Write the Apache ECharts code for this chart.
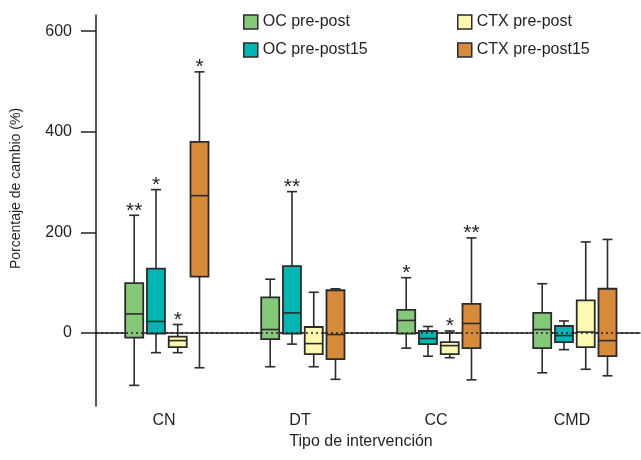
<!DOCTYPE html>
<html><head><meta charset="utf-8">
<script src="https://cdn.jsdelivr.net/npm/echarts@6/dist/echarts.min.js"></script>
<style>html,body{margin:0;padding:0;background:#fff}#c{width:641px;height:460px}</style>
</head><body><div id="c"></div>
<script>
const categories = ['CN', 'DT', 'CC', 'CMD'];
const seriesNames = ['OC pre-post', 'OC pre-post15', 'CTX pre-post', 'CTX pre-post15'];
// each box: [min, Q1, median, Q3, max], one per category
const ocPrePost    = [[-104, -9, 38, 99, 234], [-67, -12, 7, 71, 107], [-30, -1, 25, 46, 110], [-79, -30, 7, 40, 98]];
const ocPrePost15  = [[-39, -1, 23, 128, 285], [-22, -1, 40, 133, 281], [-46, -22, -11, 4, 13], [-33, -18, -5, 14, 24]];
const ctxPrePost   = [[-39, -28, -15, -7, 17], [-67, -42, -21, 12, 81], [-49, -42, -25, -18, 4], [-72, -28, 2, 65, 181]];
const ctxPrePost15 = [[-69, 112, 273, 380, 519], [-92, -52, -3, 85, 88], [-93, -30, 19, 58, 189], [-85, -46, -15, 88, 186]];
// significance marks above each box
const ocPrePostStars    = ['**', '', '*', ''];
const ocPrePost15Stars  = ['*', '**', '', ''];
const ctxPrePostStars   = ['*', '', '*', ''];
const ctxPrePost15Stars = ['*', '', '**', ''];
const yTicks = [0, 200, 400, 600];

const FONT = '"Liberation Sans", Arial, Helvetica, sans-serif';
const TXT = '#231f20';
const EDGE = '#2b2b2b';
const colors = ['#86c879', '#00b5b2', '#fff8b0', '#d68a3a'];
const allData = [ocPrePost, ocPrePost15, ctxPrePost, ctxPrePost15];
const allStars = [ocPrePostStars, ocPrePost15Stars, ctxPrePostStars, ctxPrePost15Stars];

function makeRender(si, stars) {
  return function (params, api) {
    const cat = api.value(0);
    const band = api.size([1, 0])[0];
    const off = (0.021 + (si - 1.5) * 0.16) * band;
    const c = api.coord([cat, 0])[0] + off;
    const y = k => api.coord([cat, api.value(k)])[1];
    const yMin = y(1), yQ1 = y(2), yMed = y(3), yQ3 = y(4), yMax = y(5);
    const hw = 9, cw = 5;
    const ls = { stroke: EDGE, lineWidth: 1.6 };
    const children = [
      { type: 'line', shape: { x1: c, y1: yMax, x2: c, y2: yQ3 }, style: ls },
      { type: 'line', shape: { x1: c, y1: yQ1, x2: c, y2: yMin }, style: ls },
      { type: 'line', shape: { x1: c - cw, y1: yMax, x2: c + cw, y2: yMax }, style: ls },
      { type: 'line', shape: { x1: c - cw, y1: yMin, x2: c + cw, y2: yMin }, style: ls },
      { type: 'rect', shape: { x: c - hw, y: yQ3, width: 2 * hw, height: yQ1 - yQ3 },
        style: { fill: api.visual('color'), stroke: EDGE, lineWidth: 1.8 } },
      { type: 'line', shape: { x1: c - hw, y1: yMed, x2: c + hw, y2: yMed }, style: ls }
    ];
    const s = stars[params.dataIndex];
    if (s) {
      children.push({ type: 'text', style: { text: s, x: c, y: yMax + 6, align: 'center',
        verticalAlign: 'bottom', fill: TXT, fontSize: 21, fontFamily: FONT } });
    }
    return { type: 'group', children };
  };
}

const series = allData.map((arr, si) => {
  const s = {
    name: seriesNames[si],
    type: 'custom',
    renderItem: makeRender(si, allStars[si]),
    encode: { x: 0, y: [1, 2, 3, 4, 5] },
    itemStyle: { color: colors[si], borderColor: EDGE, borderWidth: 1.5 },
    data: categories.map((c, i) => [i].concat(arr[i])),
    z: 2
  };
  if (si === 0) {
    s.markLine = {
      silent: true, symbol: 'none', z: 5,
      label: { show: false },
      lineStyle: { color: TXT, type: [2, 3], width: 1.5 },
      data: [{ yAxis: 0 }]
    };
  }
  return s;
});

const legendCommon = {
  orient: 'vertical', itemWidth: 14, itemHeight: 14, itemGap: 12, icon: 'rect',
  itemStyle: { borderColor: EDGE, borderWidth: 1.5 },
  textStyle: { fontSize: 16, color: TXT, fontFamily: FONT },
  selectedMode: false
};

const chart = echarts.init(document.getElementById('c'), null, { renderer: 'canvas' });
chart.setOption({
  animation: false,
  backgroundColor: '#fff',
  textStyle: { fontFamily: FONT },
  legend: [
    Object.assign({ left: 238, top: 9, data: [seriesNames[0], seriesNames[1]] }, legendCommon),
    Object.assign({ left: 452, top: 9, data: [seriesNames[2], seriesNames[3]] }, legendCommon)
  ],
  grid: { left: 96, right: 1, top: 15, bottom: 54 },
  xAxis: {
    type: 'category', data: categories,
    axisLine: { lineStyle: { color: TXT, width: 1.5 } },
    axisTick: { show: false },
    axisLabel: { fontSize: 16, color: TXT, margin: 7, fontFamily: FONT },
    name: 'Tipo de intervención', nameLocation: 'middle', nameGap: 24,
    nameTextStyle: { fontSize: 16, color: TXT, fontFamily: FONT, padding: [0, 14, 0, 0] },
    splitLine: { show: false }
  },
  yAxis: {
    type: 'value', min: -145, max: 632,
    axisLine: { show: true, lineStyle: { color: TXT, width: 1.5 } },
    axisTick: { show: true, inside: false, customValues: yTicks, length: 15, lineStyle: { color: TXT, width: 1.5 } },
    axisLabel: { customValues: yTicks, fontSize: 16, color: TXT, margin: 24, fontFamily: FONT },
    splitLine: { show: false },
    name: 'Porcentaje de cambio (%)', nameLocation: 'middle', nameGap: 73,
    nameTextStyle: { fontSize: 14, color: TXT, fontFamily: FONT, padding: [0, 0, 0, 44] }
  },
  series: series
});
</script>
</body></html>
